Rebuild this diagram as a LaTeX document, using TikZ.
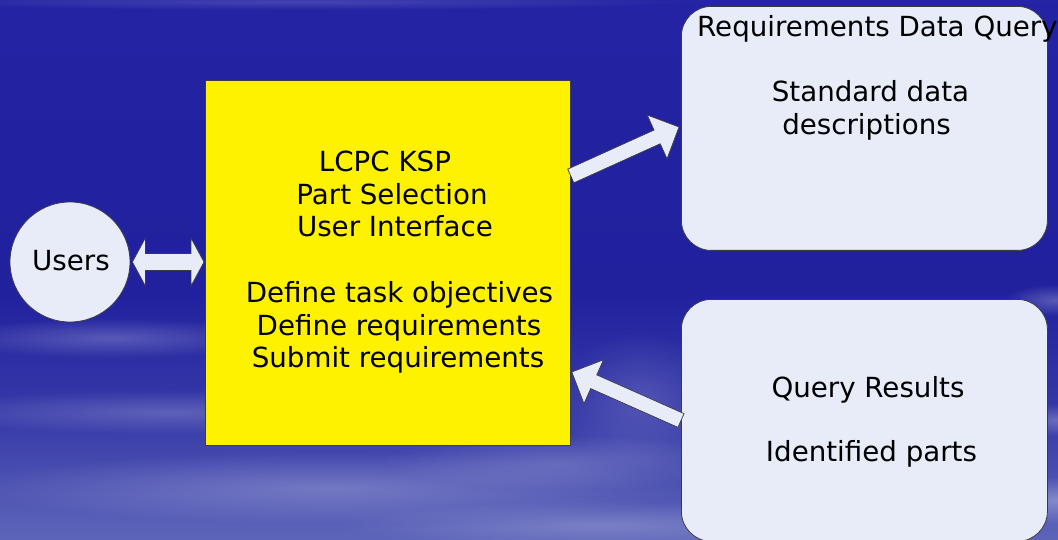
\documentclass[tikz,border=0pt]{standalone}
\usepackage{fontspec}
\setmainfont{DejaVu Sans}
\usetikzlibrary{calc,fadings}
\definecolor{bgtop}{HTML}{2B2BB4}
\definecolor{bgmid}{HTML}{21219E}
\definecolor{bgbot}{HTML}{7C86C8}
\definecolor{bglow}{HTML}{5A62B8}
\definecolor{boxfill}{HTML}{E8ECF8}
\definecolor{edge}{HTML}{3A3A4A}
\tikzfading[name=cloudfade, inner color=transparent!0, outer color=transparent!100]
\pgfdeclareverticalshading{bgshade}{100bp}{color(0bp)=(bgbot); color(12bp)=(bgbot!85!bglow); color(26bp)=(bglow); color(36bp)=(bglow!40!bgmid); color(48bp)=(bgmid); color(80bp)=(bgmid!70!bgtop); color(100bp)=(bgtop)}
\tikzset{
  bluebox/.style={draw=edge, line width=0.8pt, fill=boxfill, rounded corners=30pt, inner sep=0pt},
  yellowbox/.style={draw=edge, line width=0.8pt, fill=yellow, inner sep=0pt},
  userball/.style={circle, draw=edge, line width=0.8pt, fill=boxfill, inner sep=0pt},
  lbl/.style={font=\fontsize{27.7}{32.5}\selectfont, anchor=base, inner sep=0pt, text=black},
  blockarrow/.style={draw=edge, line width=0.7pt, fill=boxfill, line join=miter},
  cloud/.style={fill=white, path fading=cloudfade},
}
\begin{document}
\begin{tikzpicture}[x=1pt, y=-1pt]
\useasboundingbox (0,0) rectangle (1058,540);
\begin{scope}
\clip (0,0) rectangle (1058,540);
\shade[shading=bgshade] (0,0) rectangle (1058,540);
\fill[cloud, opacity=0.22] (110,338) ellipse (170pt and 20pt);
\fill[cloud, opacity=0.20] (170,412) ellipse (260pt and 22pt);
\fill[cloud, opacity=0.22] (330,488) ellipse (360pt and 36pt);
\fill[cloud, opacity=0.18] (560,462) ellipse (180pt and 28pt);
\fill[cloud, opacity=0.20] (600,525) ellipse (260pt and 24pt);
\fill[cloud, opacity=0.15] (640,400) ellipse (80pt and 70pt);
\fill[cloud, opacity=0.25] (1055,300) ellipse (50pt and 16pt);
\fill[cloud, opacity=0.25] (1055,420) ellipse (40pt and 16pt);
\fill[cloud, opacity=0.30] (1055,500) ellipse (60pt and 24pt);
\fill[cloud, opacity=0.15] (300,2) ellipse (400pt and 8pt);
\end{scope}

% boxes
\node[yellowbox, minimum width=365pt, minimum height=365pt, anchor=north west] (ksp) at (205,80) {};
\node[userball, minimum size=120pt] (users) at (70,262) {};
\node[bluebox, minimum width=366pt, minimum height=244pt, anchor=north west] (rdq) at (681,6) {};
\node[bluebox, minimum width=366pt, minimum height=242pt, anchor=north west] (qr) at (681,299) {};

% double arrow Users <-> KSP
\coordinate (da1) at ([xshift=2pt]users.east);
\coordinate (da2) at ($(ksp.west |- users.east)+(-1,0)$);
\coordinate (dh1) at ($(da1)!13pt!(da2)$);
\coordinate (dh2) at ($(da2)!13pt!(da1)$);
\draw[blockarrow] (da1) -- ($(dh1)!24pt!90:(da2)$) -- ($(dh1)!8.5pt!90:(da2)$)
  -- ($(dh2)!8.5pt!-90:(da1)$) -- ($(dh2)!24pt!-90:(da1)$) -- (da2)
  -- ($(dh2)!24pt!90:(da1)$) -- ($(dh2)!8.5pt!90:(da1)$)
  -- ($(dh1)!8.5pt!-90:(da2)$) -- ($(dh1)!24pt!-90:(da2)$) -- cycle;

% arrow KSP -> Requirements Data Query
\coordinate (a1s) at ($(ksp.north east)+(0,96)$);
\coordinate (a1e) at ($(rdq.north west)+(-2,121)$);
\coordinate (a1h) at ($(a1e)!24pt!(a1s)$);
\draw[blockarrow] ($(a1s)!7.5pt!90:(a1e)$) -- ($(a1h)!7.5pt!90:(a1e)$) -- ($(a1h)!24pt!90:(a1e)$)
  -- (a1e) -- ($(a1h)!24pt!-90:(a1e)$) -- ($(a1h)!7.5pt!-90:(a1e)$) -- ($(a1s)!7.5pt!-90:(a1e)$) -- cycle;

% arrow Query Results -> KSP
\coordinate (a2s) at ($(qr.north west)+(0,121.5)$);
\coordinate (a2e) at ($(ksp.north east)+(1,292)$);
\coordinate (a2h) at ($(a2e)!24pt!(a2s)$);
\draw[blockarrow] ($(a2s)!7.5pt!90:(a2e)$) -- ($(a2h)!7.5pt!90:(a2e)$) -- ($(a2h)!24pt!90:(a2e)$)
  -- (a2e) -- ($(a2h)!24pt!-90:(a2e)$) -- ($(a2h)!7.5pt!-90:(a2e)$) -- ($(a2s)!7.5pt!-90:(a2e)$) -- cycle;

% texts
\node[lbl] (tusers) at (71,270) {Users};
\node[lbl] (t1) at (385,172) {LCPC KSP};
\node[lbl] (t2) at (392,205) {Part Selection};
\node[lbl] (t3) at (395,237) {User Interface};
\node[lbl] (t4) at (399.5,302) {Define task objectives};
\node[lbl] (t5) at (399,335) {Define requirements};
\node[lbl] (t6) at (398,367) {Submit requirements};
\node[lbl, anchor=base west] (r1) at (697,37) {Requirements Data Query};
\node[lbl] (r2) at (870.5,102) {Standard data};
\node[lbl] (r3) at (866.5,135) {descriptions};
\node[lbl] (q1) at (868,397) {Query Results};
\node[lbl] (q2) at (871.5,461) {Identified parts};
\end{tikzpicture}
\end{document}
